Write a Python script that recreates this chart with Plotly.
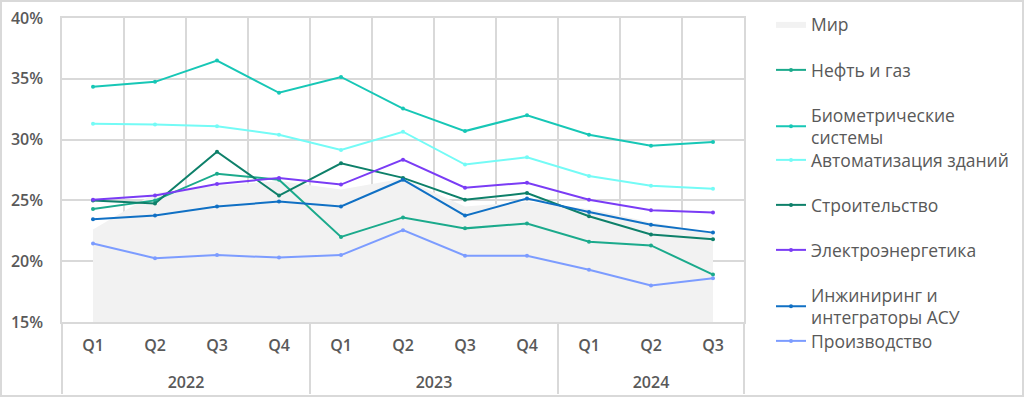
import plotly.graph_objects as go

years = ["<br>2022"] * 4 + ["<br>2023"] * 4 + ["<br>2024"] * 3
quarters = ["Q1", "Q2", "Q3", "Q4", "Q1", "Q2", "Q3", "Q4", "Q1", "Q2", "Q3"]

mir = [22.6, 25.6, 26.2, 26.6, 25.9, 26.8, 24.5, 24.9, 24.3, 23.2, 22.3]
neft = [24.3, 25.0, 27.2, 26.7, 22.0, 23.6, 22.7, 23.1, 21.6, 21.3, 18.9]
bio = [34.35, 34.75, 36.5, 33.85, 35.15, 32.55, 30.7, 32.0, 30.4, 29.5, 29.8]
auto = [31.3, 31.25, 31.1, 30.4, 29.15, 30.65, 27.95, 28.55, 27.0, 26.2, 25.95]
stroy = [25.0, 24.75, 29.0, 25.4, 28.05, 26.85, 25.05, 25.6, 23.7, 22.2, 21.8]
elec = [25.05, 25.4, 26.35, 26.85, 26.3, 28.35, 26.05, 26.45, 25.05, 24.2, 24.0]
eng = [23.45, 23.75, 24.5, 24.9, 24.5, 26.7, 23.75, 25.15, 24.05, 23.0, 22.35]
prod = [21.45, 20.25, 20.5, 20.3, 20.5, 22.55, 20.45, 20.45, 19.3, 18.0, 18.6]

series = [
    ("Нефть и газ", neft, "#1BAA8C"),
    ("Биометрические<br>системы", bio, "#17C7B6"),
    ("Автоматизация зданий", auto, "#74FBF6"),
    ("Строительство", stroy, "#0E806A"),
    ("Электроэнергетика", elec, "#7A3CF5"),
    ("Инжиниринг и<br>интеграторы АСУ", eng, "#1070C4"),
    ("Производство", prod, "#7C9CFF"),
]

W, H = 1024, 397
L, R, T, B = 62, 744, 18, 322
pw, ph = R - L, B - T

def px_x(x):
    return (x - L) / pw

def px_y(y):
    return (B - y) / ph

x = [years, quarters]
fig = go.Figure()
fig.add_trace(go.Scatter(
    x=x, y=mir, name="Мир", mode="lines", fill="tozeroy",
    fillcolor="#F2F2F2", line=dict(width=0, color="#F2F2F2"),
    legend="legend",
))
legend_y = [24, 70, 115, 160, 205, 250, 295, 341]
for i, (name, vals, col) in enumerate(series):
    fig.add_trace(go.Scatter(
        x=x, y=vals, name=name, mode="lines+markers",
        line=dict(color=col, width=2),
        marker=dict(size=4, color=col),
        legend="legend" + str(i + 2),
    ))

font_leg = dict(family="Open Sans, sans-serif", size=17.5, color="#595959")
legends = {}
for i, yc in enumerate(legend_y):
    key = "legend" if i == 0 else "legend" + str(i + 1)
    legends[key] = dict(
        x=px_x(771), xanchor="left", y=px_y(yc - 18), yanchor="top",
        font=font_leg, bgcolor="rgba(0,0,0,0)", borderwidth=0,
        itemwidth=30,
    )

fig.update_layout(
    width=W, height=H,
    margin=dict(l=L, r=W - R, t=T, b=H - B, pad=0, autoexpand=False),
    paper_bgcolor="white", plot_bgcolor="white",
    showlegend=True,
    **legends,
)
fig.update_xaxes(
    type="multicategory", tickson="boundaries", range=[-0.5, 10.5],
    showgrid=True, gridcolor="#D9D9D9", gridwidth=1.5,
    showline=True, linecolor="#D9D9D9", linewidth=1.5, mirror=True,
    showdividers=True, dividercolor="#D9D9D9", dividerwidth=1.5,
    ticks="", ticklabelstandoff=8,
    tickfont=dict(family="Open Sans, sans-serif", size=16, color="#595959", weight=600),
    layer="above traces",
)
fig.update_yaxes(
    range=[15, 40], dtick=5, tick0=15, ticksuffix="%",
    showgrid=True, gridcolor="#D9D9D9", gridwidth=1.5,
    showline=True, linecolor="#D9D9D9", linewidth=1.5, mirror=True,
    zeroline=False, ticks="", ticklabelstandoff=14,
    tickfont=dict(family="Open Sans, sans-serif", size=16, color="#595959", weight=600),
    layer="above traces",
)
fig.add_shape(
    type="rect", xref="paper", yref="paper",
    x0=px_x(1), x1=px_x(W - 1), y0=px_y(H - 1), y1=px_y(1),
    line=dict(color="#D9D9D9", width=2), fillcolor="rgba(0,0,0,0)",
)
fig.write_html("out.html", post_script="document.body.style.margin='0';",
               config={"displayModeBar": False})
